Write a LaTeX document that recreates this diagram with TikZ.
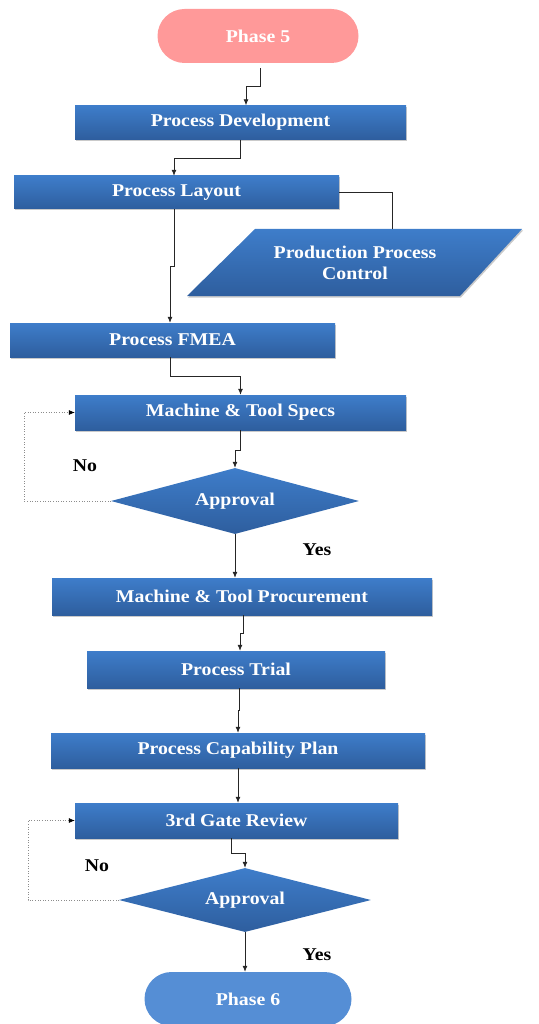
\documentclass[tikz,border=0pt]{standalone}
\usepackage{fontspec}
\setmainfont[FakeStretch=1.1]{Liberation Serif}
\usetikzlibrary{arrows.meta,shapes.geometric,shapes.misc,shadows}
\definecolor{boxtop}{RGB}{62,125,202}
\definecolor{boxbot}{RGB}{46,94,158}
\definecolor{pinkfill}{RGB}{255,153,153}
\definecolor{endfill}{RGB}{85,142,213}
\tikzset{
  every node/.style={font=\fontsize{18}{21}\selectfont\bfseries},
  stepbox/.style={rectangle, top color=boxtop, bottom color=boxbot, draw=none,
     text=white, inner sep=0pt,
     drop shadow={shadow xshift=1pt, shadow yshift=-1.5pt, opacity=0.35, fill=black!60}},
  decide/.style={diamond, shape aspect=3.7, top color=boxtop, bottom color=boxbot, draw=none,
     text=white, inner sep=0pt},
  terminal/.style={rounded rectangle, text=white, inner sep=0pt},
  arr/.style={draw=black!85, line width=0.8pt, -{Latex[length=6pt,width=5pt]}},
  plain/.style={draw=black!85, line width=0.8pt},
  noarr/.style={draw=black!45, line width=0.6pt, dotted, -{Latex[length=6pt,width=5pt,black]}},
  lbl/.style={text=black}
}
\begin{document}
\begin{tikzpicture}[x=1pt,y=-1pt]
\useasboundingbox (0,0) rectangle (538,1024);

% terminals
\node[terminal, fill=pinkfill, minimum width=201pt, minimum height=54pt] (p5) at (258,36) {Phase 5};
\node[terminal, fill=endfill, minimum width=207pt, minimum height=54pt] (p6) at (248,999) {Phase 6};

% process boxes
\node[stepbox, minimum width=331pt, minimum height=34pt] (pd) at (240.5,122.5) {Process Development};
\node[stepbox, minimum width=325pt, minimum height=33pt] (pl) at (176.5,192.5) {Process Layout};
\node[stepbox, minimum width=325pt, minimum height=34pt] (fmea) at (172.5,340) {Process FMEA};
\node[stepbox, minimum width=331pt, minimum height=35pt] (mts) at (240.5,412.5) {Machine \& Tool Specs};
\node[stepbox, minimum width=380pt, minimum height=37pt] (mtp) at (242,596.5) {Machine \& Tool Procurement};
\node[stepbox, minimum width=298pt, minimum height=37pt] (pt) at (236,669.5) {Process Trial};
\node[stepbox, minimum width=374pt, minimum height=35pt] (pcp) at (238,750.5) {Process Capability Plan};
\node[stepbox, minimum width=323pt, minimum height=35pt] (gr) at (236.5,820.5) {3rd Gate Review};

% parallelogram
\path[top color=boxtop, bottom color=boxbot,
      drop shadow={shadow xshift=1pt, shadow yshift=-1.5pt, opacity=0.35, fill=black!60}]
  (255,229) -- (522,229) -- (460,296) -- (187,296) -- cycle;
\node[text=white, align=center, inner sep=0pt, minimum width=200pt, minimum height=67pt,
      font=\fontsize{18}{21}\selectfont\bfseries] (ppc) at (355,262.5) {Production Process\\Control};

% decisions
\node[decide, minimum width=248pt, minimum height=66pt] (ap1) at (235,501) {Approval};
\node[decide, minimum width=252pt, minimum height=64pt] (ap2) at (245,900) {Approval};

% labels
\node[lbl] (no1) at (85,466) {No};
\node[lbl] (yes1) at (317,550) {Yes};
\node[lbl] (no2) at (97,866) {No};
\node[lbl] (yes2) at (317,955) {Yes};

% connectors
\draw[arr] ([xshift=2pt,yshift=-5pt]p5.south) -- ++(0,18) -| ([xshift=5.5pt]pd.north);
\draw[arr] (pd.south) -- ++(0,19) -| ([xshift=-2.5pt]pl.north);
\draw[plain] (pl.east) -| ([xshift=37pt]ppc.north);
\draw[arr] ([xshift=-2.5pt]pl.south) -- ++(0,57) -| ([xshift=-2.5pt]fmea.north);
\draw[arr] ([xshift=-2.5pt]fmea.south) -- ++(0,19) -| (mts.north);
\draw[arr] (mts.south) -- ++(0,20) -| (ap1.north);
\draw[noarr] (ap1.west) -- ++(-87,0) |- (mts.west);
\draw[arr] (ap1.south) -- (ap1.south |- mtp.north);
\draw[arr] ([xshift=1pt]mtp.south) -- ++(0,18) -| ([xshift=4pt]pt.north);
\draw[arr] ([xshift=3pt]pt.south) -- ++(0,22) -| (pcp.north);
\draw[arr] (pcp.south) -- (pcp.south |- gr.north);
\draw[arr] ([xshift=-5.5pt]gr.south) -- ++(0,15) -| (ap2.north);
\draw[noarr] (ap2.west) -- ++(-91,0) |- (gr.west);
\draw[arr] (ap2.south) -- (ap2.south |- p6.north);
\end{tikzpicture}
\end{document}
